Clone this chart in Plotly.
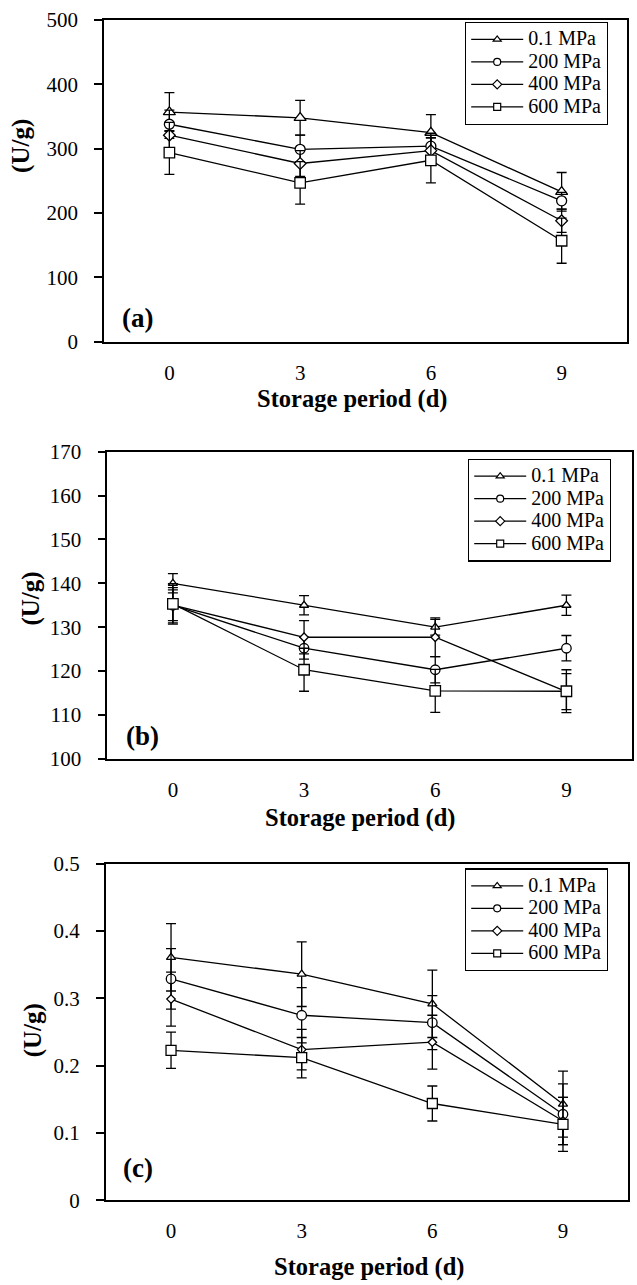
import plotly.graph_objects as go

W, H = 637, 1285

days = [0, 3, 6, 9]
day_labels = ["0", "3", "6", "9"]
series_names = ["0.1 MPa", "200 MPa", "400 MPa", "600 MPa"]

# Panel (a)
a_01 = [357, 348, 325, 233]
a_01_err = [30, 27, 28, 30]
a_200 = [338, 299, 304, 219]
a_200_err = [22, 22, 20, 13]
a_400 = [321, 277, 297, 188]
a_400_err = [20, 20, 20, 18]
a_600 = [294, 247, 282, 157]
a_600_err = [34, 33, 35, 35]
a_ticks = [0, 100, 200, 300, 400, 500]

# Panel (b)
b_01 = [140, 135, 130, 135]
b_01_err = [2.2, 2.2, 1.8, 2.3]
b_200 = [135, 125.2, 120.3, 125.2]
b_200_err = [3.5, 2.5, 3.0, 2.9]
b_400 = [135, 127.7, 127.7, 115.3]
b_400_err = [4.0, 3.8, 4.4, 4.1]
b_600 = [135.3, 120.3, 115.5, 115.4]
b_600_err = [4.6, 4.9, 4.9, 4.9]
b_ticks = [100, 110, 120, 130, 140, 150, 160, 170]

# Panel (c)
c_01 = [0.361, 0.336, 0.292, 0.143]
c_01_err = [0.05, 0.048, 0.05, 0.049]
c_200 = [0.329, 0.275, 0.264, 0.128]
c_200_err = [0.045, 0.041, 0.04, 0.045]
c_400 = [0.299, 0.224, 0.235, 0.118]
c_400_err = [0.04, 0.03, 0.04, 0.035]
c_600 = [0.223, 0.212, 0.144, 0.113]
c_600_err = [0.027, 0.03, 0.026, 0.04]
c_ticks = [0, 0.1, 0.2, 0.3, 0.4, 0.5]

symbols = ["triangle-up", "circle", "diamond", "square"]
FONT = "Liberation Serif, Times New Roman, serif"

# observed page mapping: screen_y = A + B * layout_y
A_OFF, B_SC = 11.0, 0.982

def px(x):
    return x / W

def py(y):
    return 1 - ((y - A_OFF) / B_SC) / H

panels = [
    dict(vals=[a_01, a_200, a_400, a_600], errs=[a_01_err, a_200_err, a_400_err, a_600_err],
         ticks=a_ticks, yr=[0, 500], box=(104, 19, 627, 341),
         sizes=[10.5, 10, 9, 10.5], label="(a)", label_pos=(137, 317),
         ytitle_pos=(21, 145), xtitle_pos=(352, 398), legend_pos=(465, 21)),
    dict(vals=[b_01, b_200, b_400, b_600], errs=[b_01_err, b_200_err, b_400_err, b_600_err],
         ticks=b_ticks, yr=[100, 170], box=(107.3, 451, 632, 758.3),
         sizes=[8, 9.5, 6.5, 10.5], label="(b)", label_pos=(142, 735),
         ytitle_pos=(31, 598), xtitle_pos=(360, 818), legend_pos=(468, 458)),
    dict(vals=[c_01, c_200, c_400, c_600], errs=[c_01_err, c_200_err, c_400_err, c_600_err],
         ticks=c_ticks, yr=[0, 0.5], box=(105.7, 863.3, 628.3, 1200.3),
         sizes=[8, 9.5, 6.5, 10], label="(c)", label_pos=(138, 1168),
         ytitle_pos=(33, 1030), xtitle_pos=(369, 1267), legend_pos=(465, 868)),
]

fig = go.Figure()
annotations = []
layout = dict(width=W, height=H, margin=dict(l=0, r=0, t=0, b=0),
              paper_bgcolor="white", plot_bgcolor="white",
              font=dict(family=FONT, color="black", size=21))

for i, p in enumerate(panels):
    n = "" if i == 0 else str(i + 1)
    xa, ya = "x" + n, "y" + n
    leg = "legend" + n
    x0, y0, x1, y1 = p["box"]
    for k in range(4):
        fig.add_trace(go.Scatter(
            x=days, y=p["vals"][k], xaxis=xa, yaxis=ya, mode="lines+markers",
            line=dict(color="black", width=1.3),
            marker=dict(symbol=symbols[k], size=p["sizes"][k], color="white",
                        line=dict(color="black", width=1.3)),
            error_y=dict(type="data", array=p["errs"][k], visible=True,
                         color="black", thickness=1.3, width=5),
            showlegend=False, name=series_names[k]))
    for k in range(4):
        fig.add_trace(go.Scatter(
            x=[None], y=[None], xaxis=xa, yaxis=ya, mode="lines+markers",
            line=dict(color="black", width=1.3),
            marker=dict(symbol=symbols[k], size=7, color="white",
                        line=dict(color="black", width=1.2)),
            name='<span style="font-size:20px">' + series_names[k] + "</span>",
            legend=leg, showlegend=True))
    layout["xaxis" + n] = dict(
        domain=[px(x0), px(x1)], anchor=ya, range=[-1.5, 10.5],
        tickvals=days, ticktext=day_labels, ticks="", showgrid=False, zeroline=False,
        showline=True, mirror=True, linecolor="black", linewidth=1.5,
        tickfont=dict(family=FONT, size=21, color="black"), ticklabelstandoff=11)
    layout["yaxis" + n] = dict(
        domain=[py(y1), py(y0)], anchor=xa, range=p["yr"], tickvals=p["ticks"],
        ticks="outside", ticklen=8, tickwidth=1.5, tickcolor="black",
        showgrid=False, zeroline=False, showline=True, mirror=True,
        linecolor="black", linewidth=1.5,
        tickfont=dict(family=FONT, size=21, color="black"), ticklabelstandoff=12)
    lx, ly = p["legend_pos"]
    layout[leg] = dict(x=px(lx), y=py(ly), xanchor="left", yanchor="top",
                       bgcolor="white", bordercolor="black", borderwidth=1.2,
                       font=dict(family=FONT, size=15, color="black"),
                       tracegroupgap=0, itemwidth=52)
    annotations.append(dict(text="<b>Storage period (d)</b>", x=px(p["xtitle_pos"][0]),
                            y=py(p["xtitle_pos"][1]), xref="paper", yref="paper",
                            showarrow=False, xanchor="center", yanchor="middle",
                            font=dict(family=FONT, size=24.5, color="black")))
    annotations.append(dict(text="<b>(U/g)</b>", x=px(p["ytitle_pos"][0]),
                            y=py(p["ytitle_pos"][1]), xref="paper", yref="paper",
                            showarrow=False, xanchor="center", yanchor="middle", textangle=-90,
                            font=dict(family=FONT, size=25, color="black")))
    annotations.append(dict(text="<b>" + p["label"] + "</b>", x=px(p["label_pos"][0]),
                            y=py(p["label_pos"][1]), xref="paper", yref="paper",
                            showarrow=False, xanchor="center", yanchor="middle",
                            font=dict(family=FONT, size=27, color="black")))

layout["annotations"] = annotations
fig.update_layout(**layout)
fig.write_html("out.html", config={"displayModeBar": False},
               post_script="document.body.style.margin='0';document.body.style.padding='0';"
                           "document.documentElement.style.overflow='hidden';")
